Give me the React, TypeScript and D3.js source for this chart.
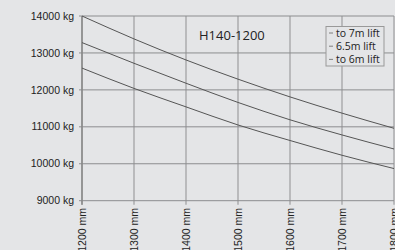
import React from 'react';
import * as d3 from 'd3';

const reaches = [1200, 1300, 1400, 1500, 1600, 1700, 1800];
const loadTicks = [9000, 10000, 11000, 12000, 13000, 14000];
const lift7m = [14000, 13380, 12810, 12290, 11810, 11370, 10960];
const lift65m = [13280, 12720, 12180, 11660, 11190, 10780, 10400];
const lift6m = [12590, 12040, 11540, 11050, 10630, 10230, 9870];
const seriesNames = ['to 7m lift', '6.5m lift', 'to 6m lift'];
const title = 'H140-1200';

const W = 395;
const H = 250;

const App: React.FC = () => {
  const x = d3.scaleLinear().domain([1200, 1800]).range([82, 394]);
  const y = d3.scaleLinear().domain([9000, 14000]).range([200.7, 16]);
  const line = d3
    .line<number>()
    .x((_, i) => x(reaches[i]))
    .y((d) => y(d))
    .curve(d3.curveMonotoneX);
  const series = [lift7m, lift65m, lift6m];
  const axisFont = "'Liberation Sans', Arial, sans-serif";
  const labelFont = "'Open Sans', 'DejaVu Sans', sans-serif";

  return (
    <svg
      width={W}
      height={H}
      style={{ position: 'absolute', left: 0, top: 0, background: '#e4e5e7' }}
    >
      <rect width={W} height={H} fill="#e4e5e7" />
      {/* vertical grid */}
      {reaches.map((r) => (
        <line key={'v' + r} x1={x(r)} x2={x(r)} y1={y(14000)} y2={y(9000) + 4} stroke="#a2a3a5" strokeWidth={1.3} />
      ))}
      {/* horizontal grid */}
      {loadTicks.map((t) => (
        <line key={'h' + t} x1={x(1200) - 3} x2={x(1800)} y1={y(t)} y2={y(t)} stroke="#8c8d8f" strokeWidth={1} />
      ))}
      <line x1={x(1200)} x2={x(1200)} y1={y(14000)} y2={y(9000) + 4} stroke="#888" strokeWidth={1.5} />
      {/* y labels */}
      {loadTicks.map((t) => (
        <text key={'yl' + t} x={74} y={y(t)} dy="0.35em" textAnchor="end" fontSize={10.5} fill="#222" fontFamily={axisFont}>
          {t} kg
        </text>
      ))}
      {/* x labels */}
      {reaches.map((r) => (
        <text
          key={'xl' + r}
          transform={`translate(${x(r)},${208}) rotate(-90)`}
          dy="0.35em"
          textAnchor="end"
          fontSize={10.5}
          fill="#222"
          fontFamily={axisFont}
        >
          {r} mm
        </text>
      ))}
      {/* curves */}
      {series.map((s, i) => (
        <path key={'s' + i} d={line(s) || ''} fill="none" stroke="#555" strokeWidth={1} />
      ))}
      {/* title */}
      <text x={199} y={40} fontSize={13} fill="#222" fontFamily={labelFont}>
        {title}
      </text>
      {/* legend */}
      <rect x={326} y={26.5} width={58} height={39.5} fill="#e4e5e7" stroke="#999" strokeWidth={1} />
      {seriesNames.map((n, i) => (
        <g key={'lg' + i} transform={`translate(329,${33 + i * 13.2})`}>
          <line x1={0} x2={4} y1={0} y2={0} stroke="#666" strokeWidth={0.8} />
          <text x={7} y={0} dy="0.35em" fontSize={10.5} fill="#222" fontFamily={labelFont}>
            {n}
          </text>
        </g>
      ))}
    </svg>
  );
};

export default App;
